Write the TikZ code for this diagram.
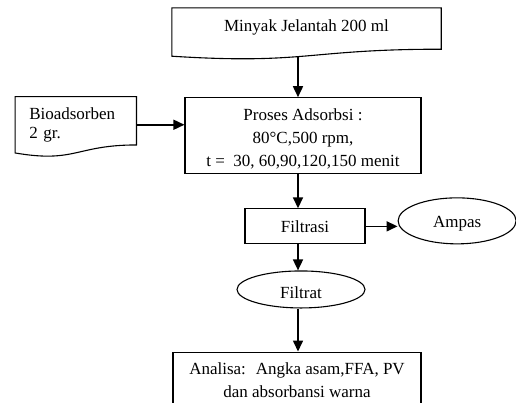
\documentclass[tikz,border=0pt]{standalone}
\usepackage{fontspec}
\setmainfont{Liberation Serif}
\usetikzlibrary{positioning, shapes.geometric, arrows.meta}

\begin{document}
\begin{tikzpicture}[
        x=1pt, y=-1pt,
        font=\fontsize{17}{23}\selectfont,
        line/.style={-{Triangle[length=11pt, width=10pt]}, line width=1.6pt},
        box/.style={draw, line width=1.1pt, align=center, inner sep=0pt},
        doc/.style={inner sep=0pt},
        docline/.style={line width=1.1pt},
        oval/.style={draw, ellipse, line width=1.1pt, inner sep=0pt}
    ]

    \useasboundingbox (0,0) rectangle (516,402);
    \clip (0,0) rectangle (516,402);

    \node[doc, minimum width=269pt, minimum height=48pt, text height=11.5pt, text depth=12pt] (minyak) at (306.5,32) {Minyak Jelantah 200 ml};
    \node[box, below=41pt of minyak, xshift=-3.5pt, minimum width=236pt, minimum height=76pt] (proses) {\rule{0pt}{18.6pt}Proses Adsorbsi :\\80°C,500 rpm,\\t = \ 30, 60,90,120,150 menit};
    \node[doc, left=48pt of proses, yshift=11pt, text width=93pt, inner xsep=14pt, align=left, minimum height=56pt, font=\fontsize{17}{19}\selectfont] (bio) {Bioadsorben\\2 gr.};
    \node[box, below=34pt of proses, xshift=2pt, minimum width=120pt, minimum height=35pt, text height=12.4pt, text depth=0pt] (filtrasi) {Filtrasi};
    \node[oval, right=32pt of filtrasi, yshift=5.5pt, minimum width=118pt, minimum height=46pt, text height=17.7pt, text depth=3.7pt] (ampas) {Ampas};
    \node[oval, below=26pt of filtrasi, xshift=-4pt, minimum width=128pt, minimum height=37pt, text height=19pt, text depth=0pt] (filtrat) {Filtrat};
    \node[box, below=43pt of filtrat, xshift=-4pt, minimum width=248pt, minimum height=56pt] (analisa) {Analisa: \ Angka asam,FFA, PV\\dan absorbansi warna};

    \draw[docline] (minyak.north west) -- (minyak.north east) -- ([yshift=7pt]minyak.south east)
        .. controls ([yshift=7pt]minyak.south) and ([yshift=-8.6pt]minyak.south) .. (minyak.south west) -- cycle;
    \draw[docline] (bio.north west) -- (bio.north east) -- ([yshift=8pt]bio.south east)
        .. controls ([yshift=8pt]bio.south) and ([yshift=-10.4pt]bio.south) .. (bio.south west) -- cycle;

    \coordinate (axis) at (298,0);

    \draw[line] (minyak.south -| axis) -- (proses.north -| axis);
    \draw[line] (bio.east) -- (bio.east -| proses.west);
    \draw[line] (proses.south -| axis) -- (filtrasi.north -| axis);
    \draw[line] (filtrasi.east) -- (filtrasi.east -| ampas.west);
    \draw[line] (filtrasi.south -| axis) -- (filtrat.north -| axis);
    \draw[line] (filtrat.south -| axis) -- (analisa.north -| axis);

    \end{tikzpicture}
\end{document}
